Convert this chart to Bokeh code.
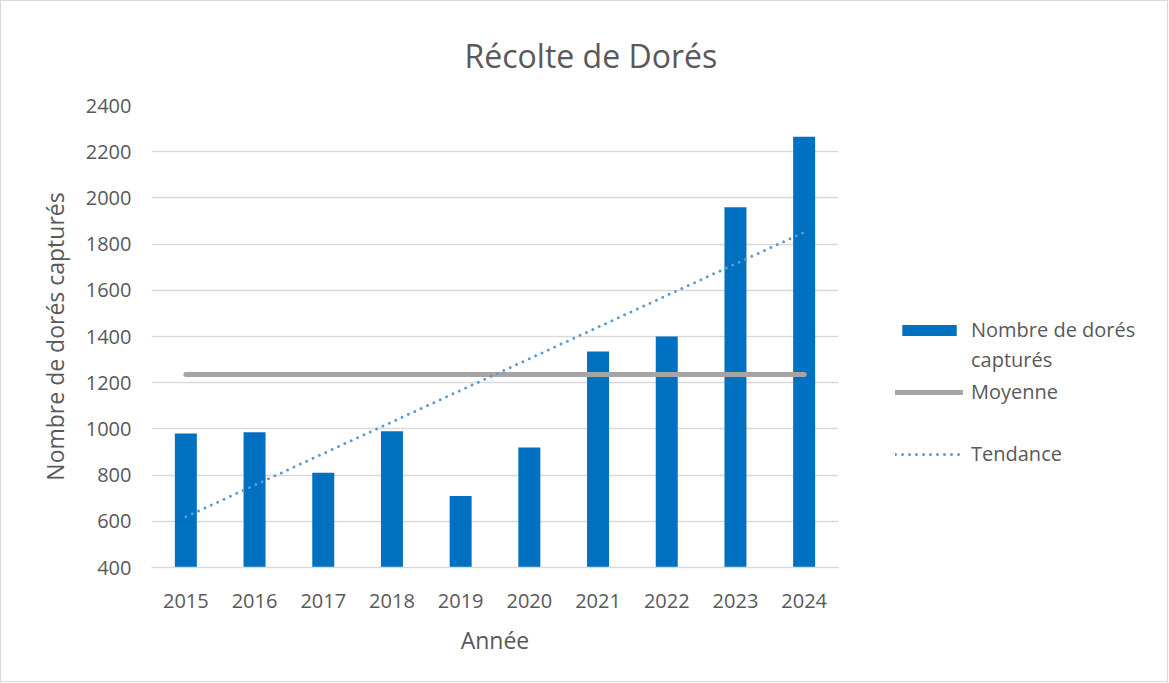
from bokeh.plotting import figure
from bokeh.layouts import row
from bokeh.models import Range1d, FixedTicker, Legend, LegendItem
from bokeh.embed import file_html
from bokeh.resources import INLINE
import numpy as np

# ---- data ----
years = ["2015", "2016", "2017", "2018", "2019", "2020", "2021", "2022", "2023", "2024"]
catches = [980, 985, 810, 990, 710, 920, 1335, 1400, 1960, 2265]
y_ticks = [400, 600, 800, 1000, 1200, 1400, 1600, 1800, 2000, 2200, 2400]

mean_val = float(np.mean(catches))
mean_line = [mean_val] * len(years)
idx = np.arange(1, len(years) + 1)
slope, intercept = np.polyfit(idx, catches, 1)
trend = [float(slope * i + intercept) for i in idx]

FONT = "Open Sans"
TXT = "#595959"
GRID = "#d9d9d9"
BAR_C = "#0070C0"
MEAN_C = "#A5A5A5"
TREND_C = "#5B9BD5"

H = 680
p = figure(x_range=years, y_range=Range1d(400, 2400), width=845, height=H,
           output_backend="svg", toolbar_location=None,
           min_border_left=150, min_border_right=8, min_border_top=104, min_border_bottom=114)
p.outline_line_color = None
p.background_fill_color = "white"
p.border_fill_color = "white"

p.vbar(x=years, top=catches, bottom=400, width=0.32, fill_color=BAR_C, line_color=None)
p.line(x=years, y=mean_line, line_color=MEAN_C, line_width=5, line_cap="round")
p.line(x=years, y=trend, line_color=TREND_C, line_width=3, line_dash="0 7", line_cap="round")

# title
p.title.text = "Récolte de Dorés"
p.title.text_font = FONT
p.title.text_font_size = "32px"
p.title.text_font_style = "normal"
p.title.text_color = TXT
p.title.align = "left"
p.title.offset = 313
p.title.vertical_align = "top"
p.title.standoff = 54

# axes
p.yaxis.ticker = FixedTicker(ticks=y_ticks)
p.ygrid.ticker = FixedTicker(ticks=y_ticks)
p.ygrid.grid_line_color = GRID
p.ygrid.grid_line_width = 1.5
p.xgrid.grid_line_color = None

for ax in (p.xaxis[0], p.yaxis[0]):
    ax.major_tick_line_color = None
    ax.minor_tick_line_color = None
    ax.major_label_text_font = FONT
    ax.major_label_text_font_size = "20px"
    ax.major_label_text_color = TXT
    ax.axis_label_text_font = FONT
    ax.axis_label_text_font_size = "23px"
    ax.axis_label_text_font_style = "normal"
    ax.axis_label_text_color = TXT

p.yaxis.axis_line_color = None
p.xaxis.axis_line_color = GRID
p.xaxis.axis_line_width = 1.5
p.yaxis.axis_label = "Nombre de dorés capturés"
p.xaxis.axis_label = "Année"
p.yaxis.major_label_standoff = 14
p.xaxis.major_label_standoff = 20
p.yaxis.axis_label_standoff = 12
p.xaxis.axis_label_standoff = 13

# ---- legend panel (glyphs with no visible data, only for legend swatches) ----
lp = figure(width=321, height=H, output_backend="svg", toolbar_location=None,
            x_range=Range1d(0, 1), y_range=Range1d(0, 1),
            min_border=0, x_axis_type=None, y_axis_type=None)
lp.outline_line_color = None
lp.xgrid.grid_line_color = None
lp.ygrid.grid_line_color = None
lp.border_fill_color = "white"
nan = [float("nan")]
lb = lp.vbar(x=nan, top=nan, width=1, fill_color=BAR_C, line_color=None)
lw = lp.vbar(x=nan, top=nan, width=1, fill_alpha=0, line_alpha=0)  # label continuation, no swatch
lm = lp.line(x=nan, y=nan, line_color=MEAN_C, line_width=5, line_cap="round")
lt = lp.line(x=nan, y=nan, line_color=TREND_C, line_width=3, line_dash="0 7", line_cap="round")


def make_legend(label, renderer, loc):
    lg = Legend(items=[LegendItem(label=label, renderers=[renderer])], location=loc)
    lg.glyph_width = 68
    lg.glyph_height = 14
    lg.label_text_font = FONT
    lg.label_text_font_size = "20px"
    lg.label_text_color = TXT
    lg.label_standoff = 8
    lg.padding = 0
    lg.margin = 0
    lg.border_line_color = None
    lg.background_fill_alpha = 0
    lp.add_layout(lg, "center")


make_legend("Nombre de dorés", lb, (49, 224))
make_legend("capturés", lw, (49, 194))
make_legend("Moyenne", lm, (49, 162))
make_legend("Tendance", lt, (49, 100))

layout = row(p, lp, spacing=0)
layout.styles = {"border": "1px solid #d9d9d9"}

open("out.html", "w").write(file_html(layout, INLINE))
